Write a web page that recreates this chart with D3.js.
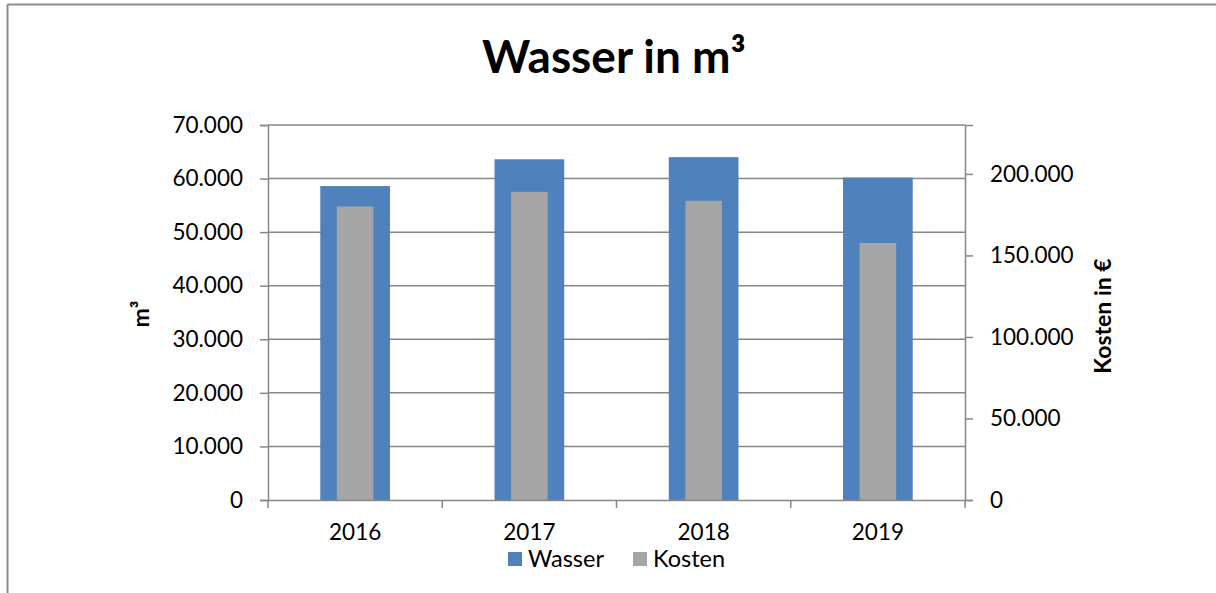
<!DOCTYPE html>
<html>
<head>
<meta charset="utf-8">
<script src="https://cdn.jsdelivr.net/npm/d3@7"></script>
<style>
  html, body { margin: 0; padding: 0; background: #fff; }
  svg { display: block; }
  text { font-family: Lato, "Open Sans", sans-serif; fill: #000; }
</style>
</head>
<body>
<svg id="chart" width="1216" height="593"></svg>
<script>
const years = ["2016", "2017", "2018", "2019"];
const wasser = [58600, 63600, 64000, 60200];
const kosten = [180000, 189000, 183500, 157600];
const leftTicks = [0, 10000, 20000, 30000, 40000, 50000, 60000, 70000];
const rightTicks = [0, 50000, 100000, 150000, 200000];
const seriesNames = ["Wasser", "Kosten"];
const title = "Wasser in m³";
const leftTitle = "m³";
const rightTitle = "Kosten in €";

const W = 1216, H = 593;
const m = { left: 268, right: 965, top: 125, bottom: 500 };
const colors = { Wasser: "#4F81BD", Kosten: "#A5A5A5" };
const gridColor = "#878787";

const svg = d3.select("#chart");

// outer frame (top & left visible)
svg.append("line").attr("x1", 7.5).attr("x2", W).attr("y1", 4.5).attr("y2", 4.5)
  .attr("stroke", "#8c8c8c").attr("stroke-width", 2);
svg.append("line").attr("x1", 7.5).attr("x2", 7.5).attr("y1", 4.5).attr("y2", H)
  .attr("stroke", "#8c8c8c").attr("stroke-width", 2);

const x = d3.scaleBand().domain(years).range([m.left, m.right]).padding(0);
const yL = d3.scaleLinear().domain([0, 70000]).range([m.bottom, m.top]);
const yR = d3.scaleLinear().domain([0, 230000]).range([m.bottom, m.top]);
const fmt = v => d3.format(",")(v).replace(/,/g, ".");

// gridlines
svg.append("g").selectAll("line").data(leftTicks.filter(d => d > 0)).join("line")
  .attr("x1", m.left).attr("x2", m.right)
  .attr("y1", d => yL(d)).attr("y2", d => yL(d))
  .attr("stroke", gridColor).attr("stroke-width", 1.5);

// Wasser bars
const wW = x.bandwidth() * 0.40;
svg.append("g").selectAll("rect").data(years).join("rect")
  .attr("x", (d) => x(d) + x.bandwidth() / 2 - wW / 2)
  .attr("width", wW)
  .attr("y", (d, i) => yL(wasser[i]))
  .attr("height", (d, i) => m.bottom - yL(wasser[i]))
  .attr("fill", colors.Wasser);

// Kosten bars
const kW = x.bandwidth() * 0.21;
svg.append("g").selectAll("rect").data(years).join("rect")
  .attr("x", (d) => x(d) + x.bandwidth() / 2 - kW / 2)
  .attr("width", kW)
  .attr("y", (d, i) => yR(kosten[i]))
  .attr("height", (d, i) => m.bottom - yR(kosten[i]))
  .attr("fill", colors.Kosten);

// Left axis
const axL = svg.append("g").attr("transform", `translate(${m.left},0)`)
  .call(d3.axisLeft(yL).tickValues(leftTicks).tickFormat(fmt).tickSize(8).tickPadding(17));
axL.select(".domain").attr("stroke", gridColor).attr("stroke-width", 1.5);
axL.selectAll(".tick line").attr("stroke", gridColor).attr("stroke-width", 1.5);
axL.selectAll(".tick text").attr("font-size", 22.5).attr("font-family", "Lato").attr("fill", "#000");

// Right axis
const axR = svg.append("g").attr("transform", `translate(${m.right},0)`)
  .call(d3.axisRight(yR).tickValues(rightTicks).tickFormat(fmt).tickSize(8).tickPadding(17));
axR.select(".domain").attr("stroke", gridColor).attr("stroke-width", 1.5);
axR.selectAll(".tick line").attr("stroke", gridColor).attr("stroke-width", 1.5);
axR.selectAll(".tick text").attr("font-size", 22.5).attr("font-family", "Lato").attr("fill", "#000");

// Bottom axis
const axB = svg.append("g").attr("transform", `translate(0,${m.bottom})`)
  .call(d3.axisBottom(x).tickSize(0).tickPadding(24));
axB.select(".domain").attr("stroke", gridColor).attr("stroke-width", 1.5);
axB.selectAll(".tick text").attr("font-size", 22.5).attr("font-family", "Lato").attr("fill", "#000");
const bounds = years.map(d => x(d)).concat([m.right]);
axB.append("g").selectAll("line").data(bounds).join("line")
  .attr("x1", d => d).attr("x2", d => d).attr("y1", 0).attr("y2", 8)
  .attr("stroke", gridColor).attr("stroke-width", 1.5);

// Title
svg.append("text").attr("x", 614).attr("y", 73).attr("text-anchor", "middle")
  .attr("font-size", 46).attr("font-weight", "bold").text(title);

// Axis titles
svg.append("text").attr("transform", "translate(149,314) rotate(-90)")
  .attr("text-anchor", "middle").attr("font-size", 23).attr("font-weight", "bold").text(leftTitle);
svg.append("text").attr("transform", "translate(1111,316) rotate(-90)")
  .attr("text-anchor", "middle").attr("font-size", 23).attr("font-weight", "bold").text(rightTitle);

// Legend
const lg = svg.append("g");
const legendX = [508, 633];
seriesNames.forEach((s, i) => {
  lg.append("rect").attr("x", legendX[i]).attr("y", 552).attr("width", 14).attr("height", 14)
    .attr("fill", colors[s]);
  lg.append("text").attr("x", legendX[i] + 20).attr("y", 567).attr("font-size", 23.5).text(s);
});
</script>
</body>
</html>
